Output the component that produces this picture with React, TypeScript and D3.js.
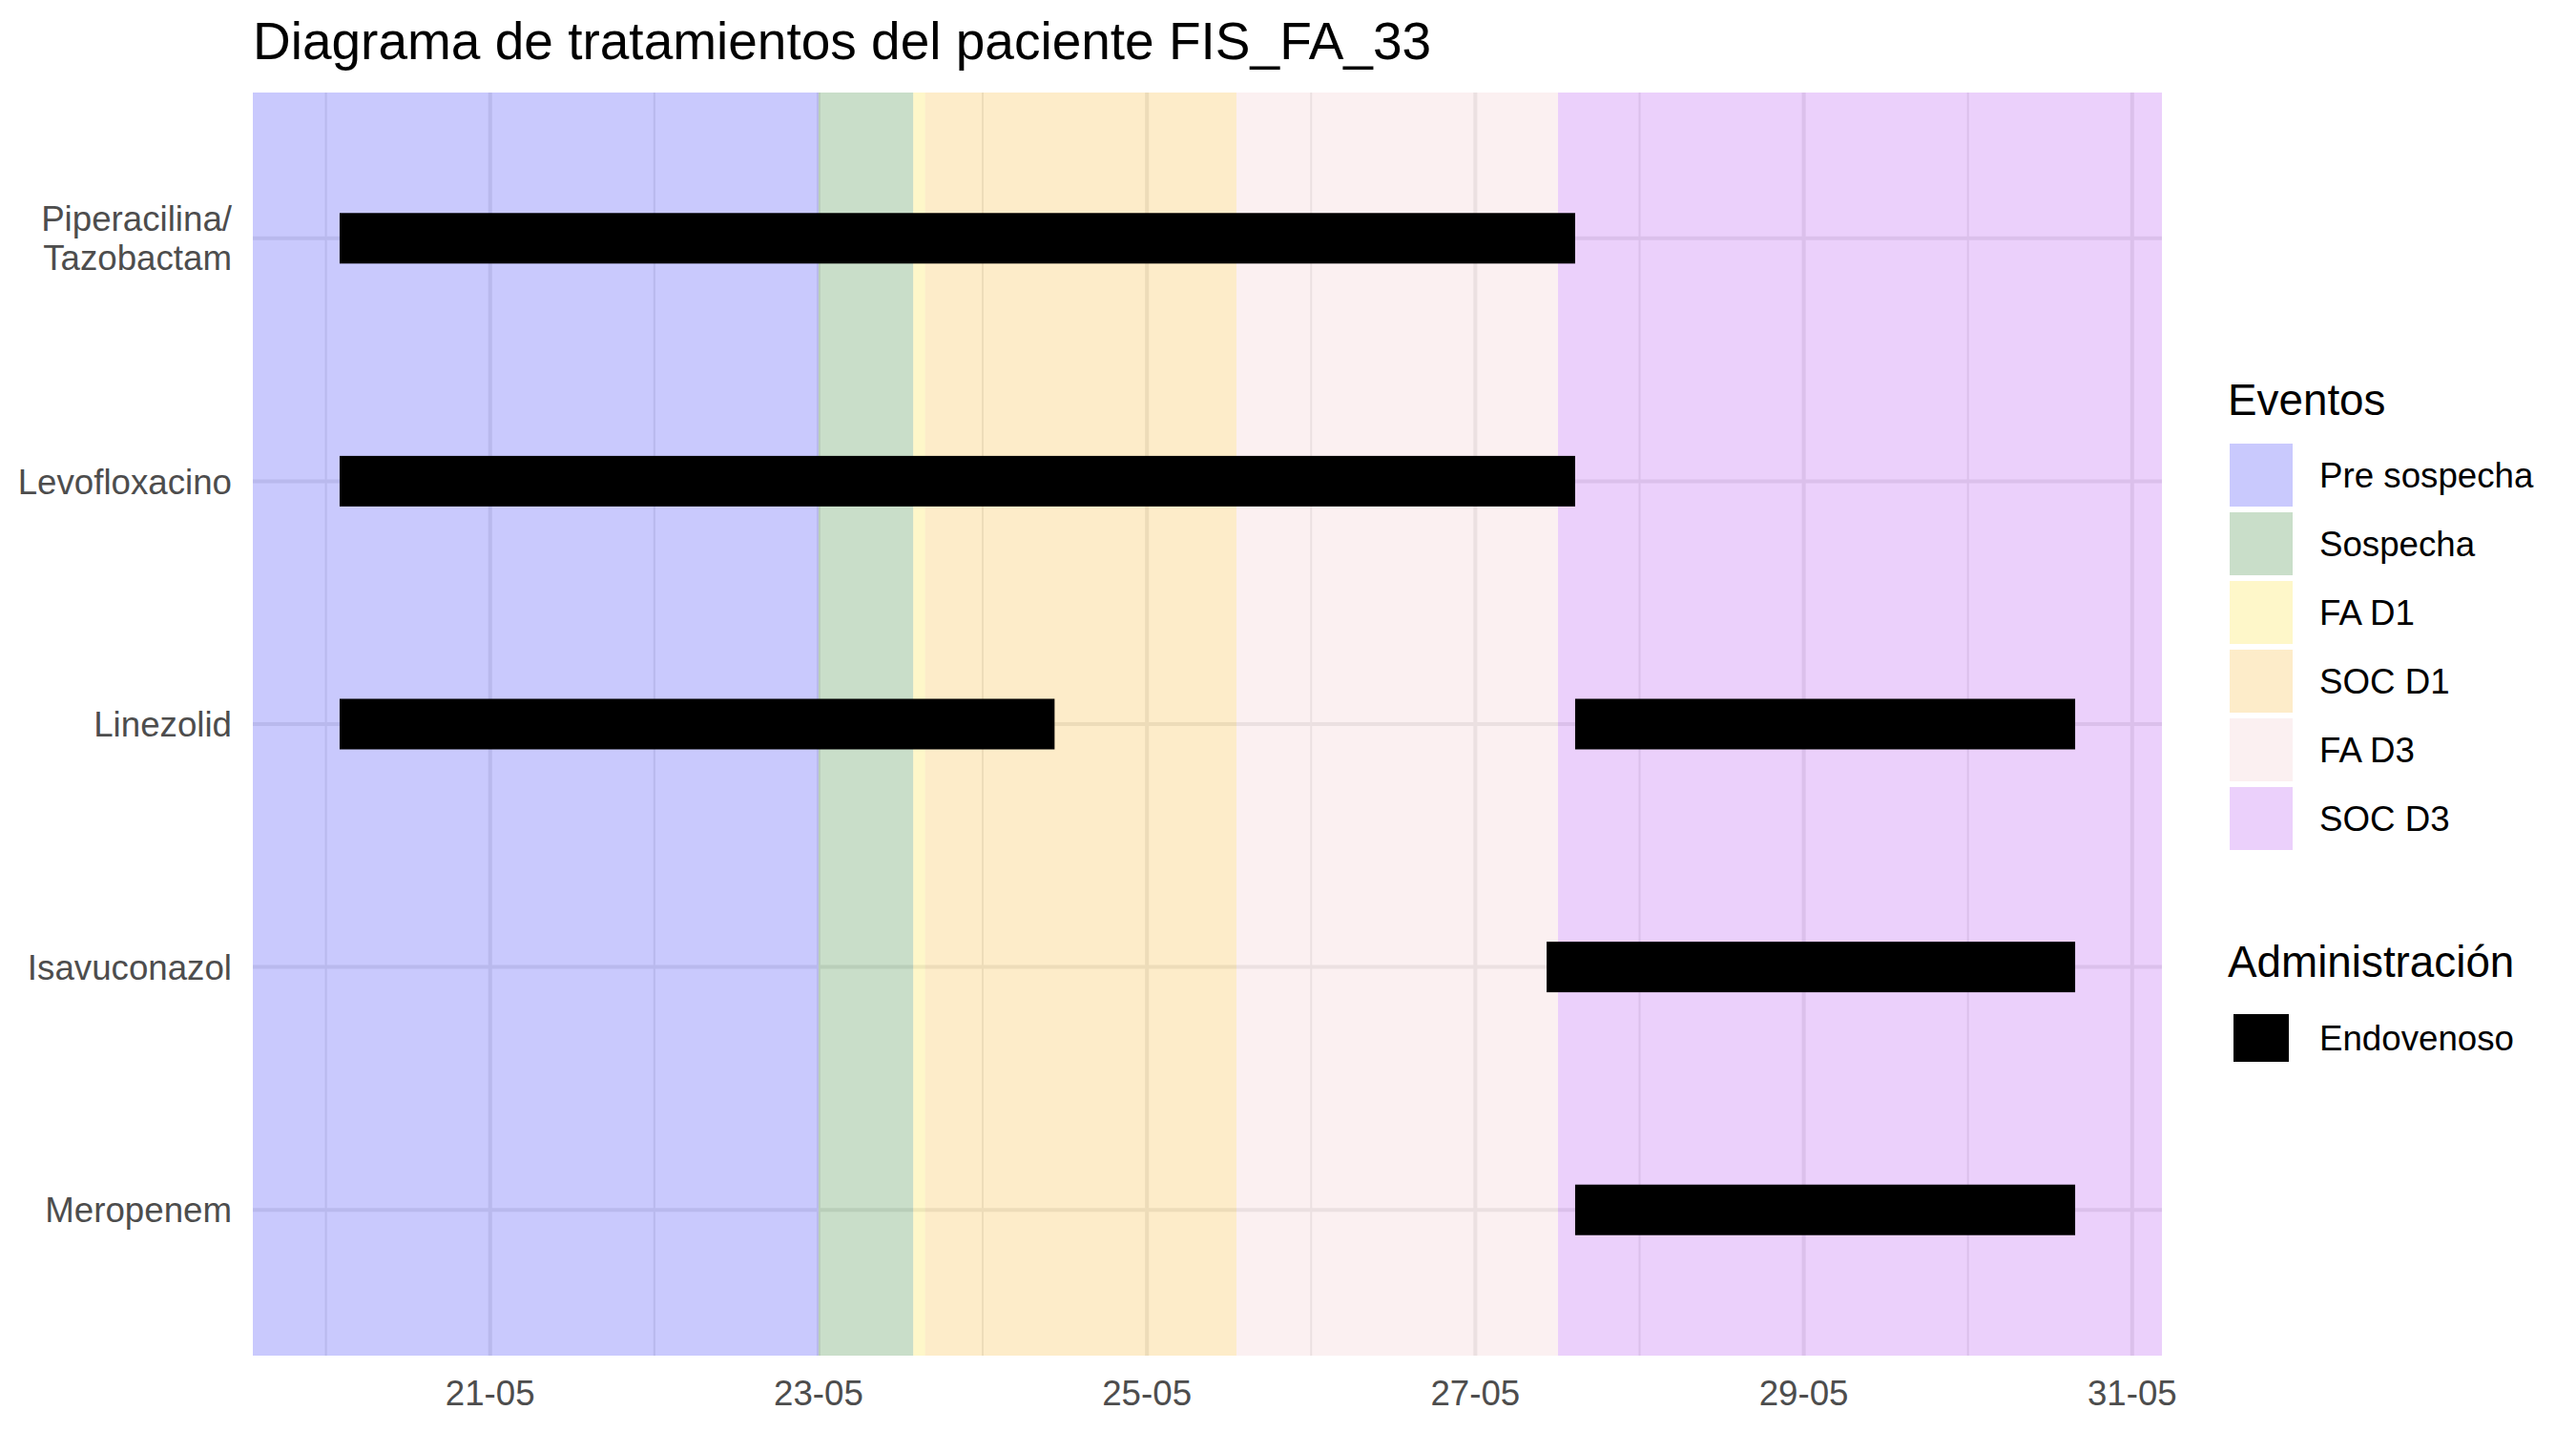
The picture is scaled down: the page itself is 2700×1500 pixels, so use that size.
import React, { useEffect, useRef } from "react";
import * as d3 from "d3";

const title = "Diagrama de tratamientos del paciente FIS_FA_33";

const drugs = [
  "Piperacilina/\nTazobactam",
  "Levofloxacino",
  "Linezolid",
  "Isavuconazol",
  "Meropenem",
];

// treatment periods: drug, start, end (UTC)
const treatments = [
  { drug: "Piperacilina/\nTazobactam", start: "2024-05-20T02:00", end: "2024-05-27T14:35" },
  { drug: "Levofloxacino", start: "2024-05-20T02:00", end: "2024-05-27T14:35" },
  { drug: "Linezolid", start: "2024-05-20T02:00", end: "2024-05-24T10:30" },
  { drug: "Linezolid", start: "2024-05-27T14:35", end: "2024-05-30T15:40" },
  { drug: "Isavuconazol", start: "2024-05-27T10:25", end: "2024-05-30T15:40" },
  { drug: "Meropenem", start: "2024-05-27T14:35", end: "2024-05-30T15:40" },
];

const eventNames = ["Pre sospecha", "Sospecha", "FA D1", "SOC D1", "FA D3", "SOC D3"];
const eventColors = [
  "rgba(0,0,245,0.21)",
  "rgba(0,100,0,0.21)",
  "rgba(250,215,0,0.21)",
  "rgba(245,165,0,0.21)",
  "rgba(235,180,185,0.2)",
  "rgba(160,32,235,0.21)",
];
// null = open-ended (-Inf / Inf)
const eventStarts = [null, "2024-05-23T00:00", "2024-05-23T13:50", "2024-05-23T15:35", "2024-05-25T13:05", "2024-05-27T12:05"];
const eventEnds = ["2024-05-23T00:00", "2024-05-23T13:50", "2024-05-23T15:35", "2024-05-25T13:05", "2024-05-27T12:05", null];

const adminNames = ["Endovenoso"];

const parse = (s) => new Date(s + ":00Z");

function App() {
  const chartRef = useRef();

  useEffect(() => {
    drawChart();
  }, []);

  const drawChart = () => {
    const W = 2700;
    const H = 1500;
    const panel = { left: 265, right: 2266, top: 97, bottom: 1421 };
    const font = "'Liberation Sans', Arial, sans-serif";

    const svg = d3.select(chartRef.current);
    svg.selectAll("*").remove();
    svg.attr("width", W).attr("height", H).style("font-family", font);

    svg.append("rect").attr("width", W).attr("height", H).attr("fill", "white");

    // x domain = treatment range with 5% expansion
    const tMin = d3.min(treatments, (d) => parse(d.start).getTime());
    const tMax = d3.max(treatments, (d) => parse(d.end).getTime());
    const pad = (tMax - tMin) * 0.05;
    const x = d3
      .scaleUtc()
      .domain([new Date(tMin - pad), new Date(tMax + pad)])
      .range([panel.left, panel.right]);

    const y = d3
      .scalePoint()
      .domain(drugs)
      .range([panel.top, panel.bottom])
      .padding(0.6);

    const allDays = d3.utcDay.range(d3.utcDay.ceil(x.domain()[0]), x.domain()[1]);
    const majorDays = allDays.filter((d) => d.getUTCDate() % 2 === 1);
    const minorDays = allDays.filter((d) => d.getUTCDate() % 2 === 0);

    const grid = svg.append("g");
    grid
      .selectAll(".minor")
      .data(minorDays)
      .join("line")
      .attr("x1", (d) => x(d))
      .attr("x2", (d) => x(d))
      .attr("y1", panel.top)
      .attr("y2", panel.bottom)
      .attr("stroke", "#ebebeb")
      .attr("stroke-width", 2);
    grid
      .selectAll(".major")
      .data(majorDays)
      .join("line")
      .attr("x1", (d) => x(d))
      .attr("x2", (d) => x(d))
      .attr("y1", panel.top)
      .attr("y2", panel.bottom)
      .attr("stroke", "#ebebeb")
      .attr("stroke-width", 4);
    grid
      .selectAll(".hline")
      .data(drugs)
      .join("line")
      .attr("x1", panel.left)
      .attr("x2", panel.right)
      .attr("y1", (d) => y(d))
      .attr("y2", (d) => y(d))
      .attr("stroke", "#ebebeb")
      .attr("stroke-width", 4);

    // event bands
    const bands = eventNames.map((name, i) => ({
      name,
      color: eventColors[i],
      x0: eventStarts[i] ? x(parse(eventStarts[i])) : panel.left,
      x1: eventEnds[i] ? x(parse(eventEnds[i])) : panel.right,
    }));
    svg
      .append("g")
      .selectAll("rect")
      .data(bands)
      .join("rect")
      .attr("x", (d) => d.x0)
      .attr("width", (d) => d.x1 - d.x0)
      .attr("y", panel.top)
      .attr("height", panel.bottom - panel.top)
      .attr("fill", (d) => d.color);

    // treatment bars
    const barH = 53;
    svg
      .append("g")
      .selectAll("rect")
      .data(treatments)
      .join("rect")
      .attr("x", (d) => x(parse(d.start)))
      .attr("width", (d) => x(parse(d.end)) - x(parse(d.start)))
      .attr("y", (d) => y(d.drug) - barH / 2)
      .attr("height", barH)
      .attr("fill", "black");

    // x axis labels
    svg
      .append("g")
      .selectAll("text")
      .data(majorDays)
      .join("text")
      .attr("x", (d) => x(d))
      .attr("y", 1473)
      .attr("text-anchor", "middle")
      .attr("font-size", 36.7)
      .attr("fill", "#4d4d4d")
      .text((d) => d3.utcFormat("%d-%m")(d));

    // y axis labels
    const yl = svg.append("g");
    drugs.forEach((d) => {
      const lines = d.split("\n");
      const lh = 41;
      const t = yl
        .append("text")
        .attr("text-anchor", "end")
        .attr("font-size", 36.7)
        .attr("fill", "#4d4d4d");
      lines.forEach((ln, i) => {
        t.append("tspan")
          .attr("x", 243)
          .attr("y", y(d) + (i - (lines.length - 1) / 2) * lh)
          .attr("dy", "0.36em")
          .text(ln);
      });
    });

    // title
    svg
      .append("text")
      .attr("x", panel.left)
      .attr("y", 62)
      .attr("font-size", 55)
      .attr("fill", "black")
      .text(title);

    // legend: Eventos
    const lg = svg.append("g");
    lg.append("text")
      .attr("x", 2335)
      .attr("y", 435)
      .attr("font-size", 45.8)
      .attr("fill", "black")
      .text("Eventos");
    const keyTop = 462;
    const keyStep = 72;
    bands.forEach((b, i) => {
      const cy = keyTop + keyStep * i + keyStep / 2;
      lg.append("rect")
        .attr("x", 2337)
        .attr("y", cy - 33)
        .attr("width", 66)
        .attr("height", 66)
        .attr("fill", b.color);
      lg.append("text")
        .attr("x", 2431)
        .attr("y", cy)
        .attr("dy", "0.36em")
        .attr("font-size", 36.7)
        .attr("fill", "black")
        .text(b.name);
    });

    // legend: Administración
    lg.append("text")
      .attr("x", 2335)
      .attr("y", 1024)
      .attr("font-size", 45.8)
      .attr("fill", "black")
      .text("Administración");
    adminNames.forEach((name, i) => {
      const cy = 1088 + keyStep * i;
      lg.append("rect")
        .attr("x", 2341)
        .attr("y", cy - 25)
        .attr("width", 58)
        .attr("height", 50)
        .attr("fill", "black");
      lg.append("text")
        .attr("x", 2431)
        .attr("y", cy)
        .attr("dy", "0.36em")
        .attr("font-size", 36.7)
        .attr("fill", "black")
        .text(name);
    });
  };

  return (
    <svg
      ref={chartRef}
      width={2700}
      height={1500}
      style={{ position: "absolute", left: 0, top: 0 }}
    ></svg>
  );
}

export default App;
